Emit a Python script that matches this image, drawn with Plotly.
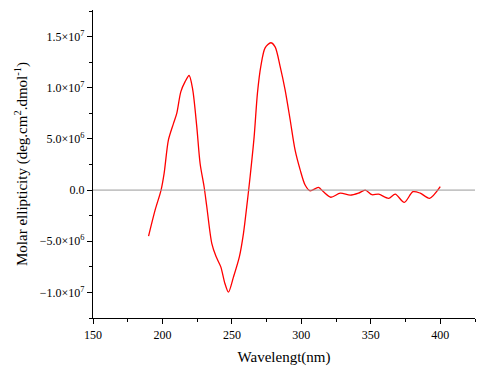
import plotly.graph_objects as go

wavelength = [190, 194.7, 199, 201.2, 204.3, 207.9, 210.3, 213.2, 216.3, 219.2, 221.8, 224.7, 227.1,
              230, 231.9, 235.5, 238.6, 242, 244.9, 247.5, 251.1, 255.4, 258.3, 261.2, 263.1, 266,
              268.4, 270.8, 273.9, 278, 281.1, 284.7, 288.3, 291.9, 295.5, 299.1, 302.7, 306.3,
              312.3, 315.9, 321.2, 328, 335.2, 341.1, 346, 350.8, 355.6, 362.8, 367.6, 374.1,
              380.3, 385.6, 392.3, 400]
ellipticity = [-4.5e6, -1.96e6, 0.0, 1.63e6, 4.9e6, 6.5e6, 7.5e6, 9.6e6, 1.06e7, 1.12e7, 9.8e6, 6.2e6, 2.6e6,
               0.3e6, -1.6e6, -5.2e6, -6.5e6, -7.5e6, -9.1e6, -9.97e6, -8.5e6, -6.5e6, -4.25e6, -1.0e6, 1.3e6, 5.2e6,
               9.5e6, 1.21e7, 1.39e7, 1.44e7, 1.40e7, 1.21e7, 9.8e6, 6.9e6, 3.9e6, 2.0e6, 0.5e6, -0.07e6,
               0.26e6, -0.17e6, -0.7e6, -0.3e6, -0.5e6, -0.3e6, 0.0, -0.45e6, -0.4e6, -0.8e6, -0.4e6, -1.2e6,
               -0.16e6, -0.3e6, -0.8e6, 0.33e6]

y_tickvals = [-1e7, -5e6, 0, 5e6, 1e7, 1.5e7]
y_ticktext = ["\u22121.0\u00d710<sup>7</sup>", "\u22125.0\u00d710<sup>6</sup>", "0.0",
              "5.0\u00d710<sup>6</sup>", "1.0\u00d710<sup>7</sup>", "1.5\u00d710<sup>7</sup>"]
x_tickvals = [150, 200, 250, 300, 350, 400]

font = "Liberation Serif, Times New Roman, serif"

fig = go.Figure()
fig.add_hline(y=0, line=dict(color="#999999", width=1))
fig.add_trace(go.Scatter(x=wavelength, y=ellipticity, mode="lines",
                         line=dict(color="#ff0000", width=1.3, shape="spline", smoothing=0.8),
                         showlegend=False))

# page body has an 8px default margin, so the figure is sized to compensate
fig.update_layout(
    width=483, height=371,
    margin=dict(l=85, r=16, t=2, b=61),
    paper_bgcolor="white", plot_bgcolor="white",
    font=dict(family=font, size=12, color="black"),
)
fig.update_xaxes(range=[150, 425], tickvals=x_tickvals, ticks="outside", ticklen=5,
                 tickcolor="black", showline=True, linecolor="black", linewidth=1.2,
                 showgrid=False, zeroline=False, automargin=False,
                 minor=dict(dtick=25, tick0=150, ticks="outside", ticklen=3, tickcolor="black"),
                 title=dict(text="Wavelengt(nm)", font=dict(size=15, family=font), standoff=10),
                 tickfont=dict(size=12, family=font))
fig.update_yaxes(range=[-1.25e7, 1.76e7], tickvals=y_tickvals, ticktext=y_ticktext,
                 ticks="outside", ticklen=5, tickcolor="black", showline=True, linecolor="black",
                 linewidth=1.2, showgrid=False, zeroline=False, automargin=False,
                 minor=dict(dtick=2.5e6, tick0=0, ticks="outside", ticklen=3, tickcolor="black"),
                 title=dict(text="Molar ellipticity (deg.cm<sup>2</sup>.dmol<sup>-1</sup>)",
                            font=dict(size=15, family=font), standoff=8),
                 tickfont=dict(size=12, family=font))

fig.write_html("out.html")
